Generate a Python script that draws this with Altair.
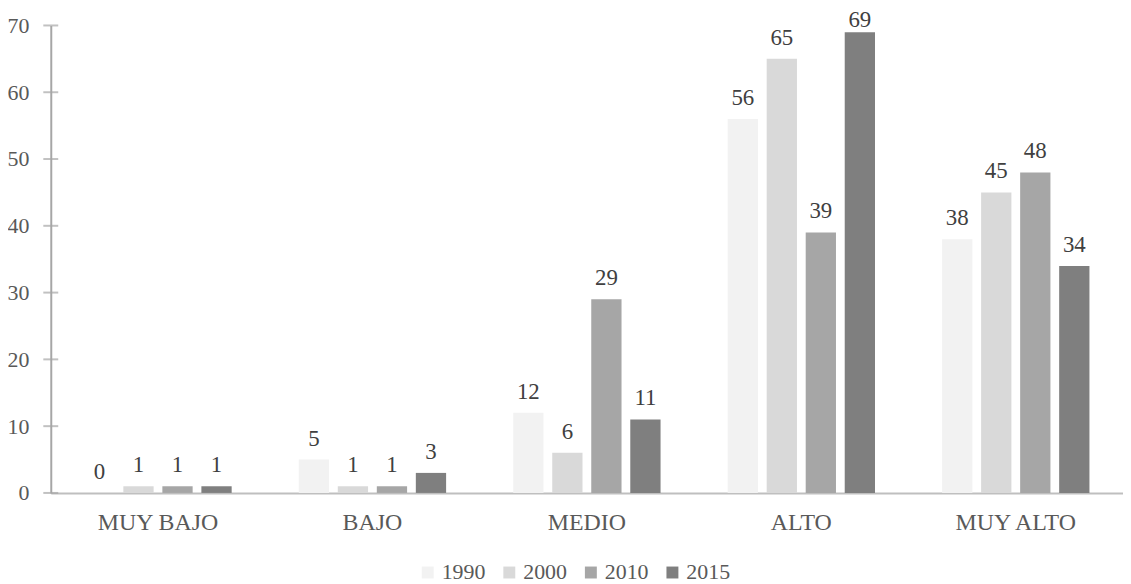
import altair as alt
import pandas as pd

categories = ["MUY BAJO", "BAJO", "MEDIO", "ALTO", "MUY ALTO"]
years = ["1990", "2000", "2010", "2015"]
v1990 = [0, 5, 12, 56, 38]
v2000 = [1, 1, 6, 65, 45]
v2010 = [1, 1, 29, 39, 48]
v2015 = [1, 3, 11, 69, 34]
colors = ["#f2f2f2", "#d9d9d9", "#a6a6a6", "#7f7f7f"]
ytick_values = [0, 10, 20, 30, 40, 50, 60, 70]

series = {"1990": v1990, "2000": v2000, "2010": v2010, "2015": v2015}
rows = []
for yr in years:
    for c, v in zip(categories, series[yr]):
        rows.append({"cat": c, "year": yr, "val": v})
df = pd.DataFrame(rows)
ticks_df = pd.DataFrame({"val": ytick_values})

FONT = "Liberation Serif"

x = alt.X(
    "cat:N",
    sort=categories,
    scale=alt.Scale(paddingInner=0, paddingOuter=0),
    axis=alt.Axis(
        title=None, labelAngle=0, ticks=False, domainColor="#bfbfbf", domainWidth=2,
        labelFont=FONT, labelFontSize=24, labelColor="#595959", labelPadding=18,
    ),
)
xo = alt.XOffset("year:N", sort=years, scale=alt.Scale(paddingInner=0.224, paddingOuter=0.86))
y = alt.Y(
    "val:Q",
    scale=alt.Scale(domain=[0, 70], nice=False, zero=True),
    axis=alt.Axis(
        title=None, values=ytick_values, grid=False, ticks=False, domainColor="#a6a6a6",
        domainWidth=2, labelFont=FONT, labelFontSize=22, labelColor="#595959", labelPadding=22,
    ),
)
color = alt.Color(
    "year:N",
    sort=years,
    scale=alt.Scale(domain=years, range=colors),
    legend=alt.Legend(
        title=None, orient="none", legendX=368, legendY=539, direction="horizontal",
        symbolType="square", symbolSize=144, symbolStrokeWidth=0, labelFont=FONT,
        labelFontSize=22, labelColor="#595959", columnPadding=13, labelOffset=3, padding=0,
    ),
)

bars = alt.Chart(df).mark_bar().encode(x=x, xOffset=xo, y=y, color=color)
labels = alt.Chart(df).transform_calculate(
    ly="min(datum.val + 2.1, 69.7)"
).mark_text(
    baseline="alphabetic", font=FONT, fontSize=23, color="#404040"
).encode(x=x, xOffset=xo, y=alt.Y("ly:Q"), text="val:Q")
yticks = alt.Chart(ticks_df).mark_tick(color="#a6a6a6", thickness=2, size=15).encode(
    y=alt.Y("val:Q"), x=alt.value(0)
)

chart = alt.layer(bars, labels, yticks).properties(
    width=1078, height=470,
    autosize=alt.AutoSizeParams(type="none"),
    padding={"left": 43, "top": 16, "right": 0, "bottom": 90},
).configure_view(stroke=None)

chart.save("out.html", embed_options={"renderer": "svg", "actions": False})
